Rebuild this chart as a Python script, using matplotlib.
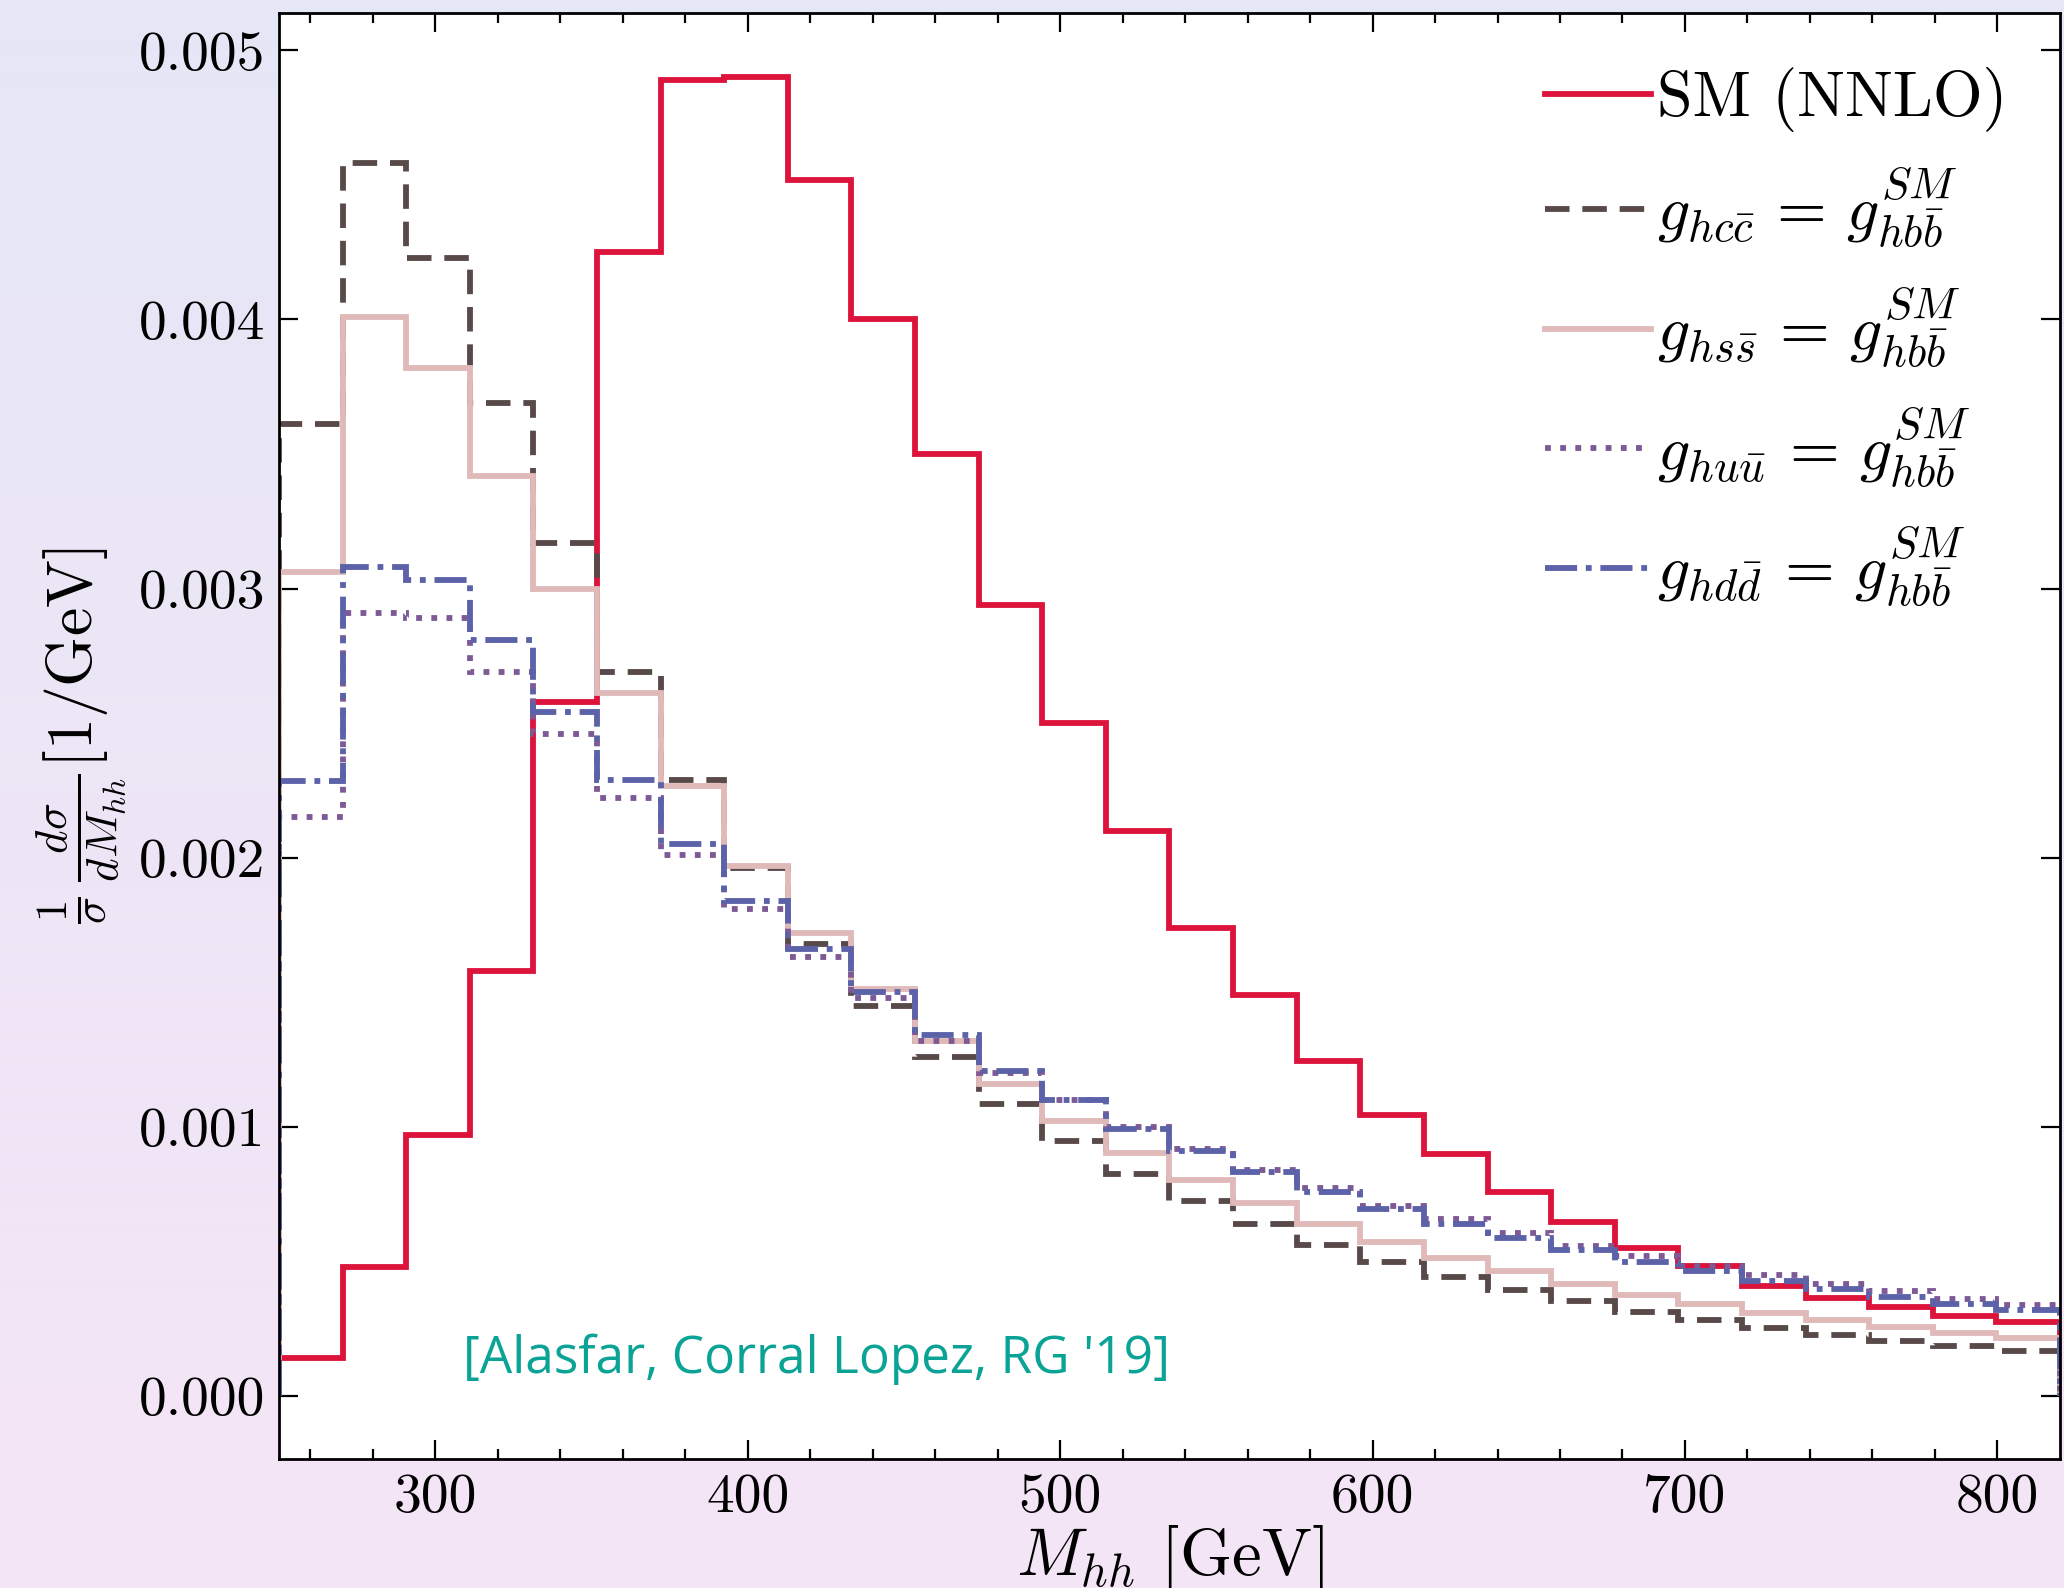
import matplotlib
matplotlib.use("Agg")
import matplotlib.pyplot as plt
import numpy as np
from matplotlib.lines import Line2D

# --- data ---
bin_edges = [250.0, 270.4, 290.7, 311.1, 331.4, 351.8, 372.1, 392.5, 412.9, 433.2,
             453.6, 473.9, 494.3, 514.6, 535.0, 555.4, 575.7, 596.1, 616.4, 636.8,
             657.1, 677.5, 697.9, 718.2, 738.6, 758.9, 779.3, 799.6, 820.0]

sm_nnlo = [0.00014, 0.00048, 0.00097, 0.00158, 0.00258, 0.00425, 0.00489, 0.00490,
           0.00452, 0.00400, 0.00350, 0.00294, 0.00250, 0.00210, 0.00174, 0.00149,
           0.001245, 0.001043, 0.000898, 0.000756, 0.000647, 0.000551, 0.000483,
           0.000409, 0.000365, 0.000331, 0.000297, 0.000276]

g_hcc = [0.00361, 0.00458, 0.00423, 0.00369, 0.00317, 0.00269, 0.00229, 0.00196,
         0.00168, 0.00145, 0.00126, 0.001085, 0.000948, 0.000825, 0.000725, 0.000638,
         0.000561, 0.000498, 0.000440, 0.000393, 0.000351, 0.000313, 0.000281,
         0.000251, 0.000227, 0.000204, 0.000185, 0.000167]

g_hss = [0.00306, 0.00401, 0.00382, 0.00342, 0.00300, 0.00261, 0.002265, 0.00197,
         0.00172, 0.00151, 0.00132, 0.00116, 0.00102, 0.000903, 0.000802, 0.000715,
         0.000638, 0.000571, 0.000511, 0.000462, 0.000417, 0.000375, 0.000341,
         0.000308, 0.000281, 0.000256, 0.000234, 0.000214]

g_huu = [0.00215, 0.00291, 0.00289, 0.00269, 0.00246, 0.00222, 0.00201, 0.00181,
         0.00163, 0.00148, 0.00132, 0.00120, 0.00110, 0.00100, 0.000917, 0.000839,
         0.000774, 0.000706, 0.000657, 0.000604, 0.000558, 0.000520, 0.000483,
         0.000450, 0.000415, 0.000388, 0.000360, 0.000338]

g_hdd = [0.002285, 0.00308, 0.00303, 0.00281, 0.00254, 0.00229, 0.00205, 0.00184,
         0.00166, 0.00150, 0.00134, 0.001208, 0.00110, 0.00099, 0.000911, 0.000830,
         0.000758, 0.000696, 0.000638, 0.000588, 0.000541, 0.000499, 0.000464,
         0.000427, 0.000396, 0.000367, 0.000343, 0.000320]

labels = ['SM (NNLO)',
          r'$g_{hc\bar{c}}\,=\,g^{SM}_{hb\bar{b}}$',
          r'$g_{hs\bar{s}}\,=\,g^{SM}_{hb\bar{b}}$',
          r'$g_{hu\bar{u}}\,=\,g^{SM}_{hb\bar{b}}$',
          r'$g_{hd\bar{d}}\,=\,g^{SM}_{hb\bar{b}}$']

x_ticks = [300, 400, 500, 600, 700, 800]
y_ticks = [0.000, 0.001, 0.002, 0.003, 0.004, 0.005]

# --- style ---
plt.rcParams['font.family'] = 'serif'
plt.rcParams['font.serif'] = ['cmr10', 'DejaVu Serif']
plt.rcParams['mathtext.fontset'] = 'cm'
plt.rcParams['axes.unicode_minus'] = False

fig = plt.figure(figsize=(20.64, 15.88), dpi=100)

# soft lavender gradient behind everything
bg = fig.add_axes([0, 0, 1, 1], zorder=0)
top_c = np.array([229, 231, 246]) / 255
bot_c = np.array([245, 229, 246]) / 255
t = np.linspace(0, 1, 256)[:, None]
grad = (top_c[None, :] * (1 - t) + bot_c[None, :] * t)[:, None, :]
bg.imshow(grad, aspect='auto', extent=[0, 1, 0, 1])
bg.axis('off')

ax = fig.add_axes([0.1352, 0.0812, 0.8628, 0.9108], zorder=1)
ax.set_facecolor('white')

lw = 4.2
styles = [
    (sm_nnlo, '#DC143C', '-'),
    (g_hcc, '#594a4a', (0, (4.2, 2.2))),
    (g_hss, '#e0b9b9', '-'),
    (g_huu, '#7d5a95', (0, (1, 1.6))),
    (g_hdd, '#5b62a8', (0, (5.5, 1.5, 1, 1.5))),
]
draw_order = [2, 1, 4, 3, 0]
for i in draw_order:
    vals, col, ls = styles[i]
    ax.stairs(vals, bin_edges, baseline=0, color=col, linestyle=ls,
              linewidth=lw, zorder=2 + i * 0.1)

leg_handles = [Line2D([], [], color=styles[i][1], linestyle=styles[i][2], linewidth=lw)
               for i in range(5)]
ax.legend(leg_handles, labels, loc='upper right', frameon=False, fontsize=46,
          handlelength=1.65, handletextpad=0.1, labelspacing=0.55,
          borderaxespad=0.2, bbox_to_anchor=(0.992, 0.989))

ax.set_xlim(250, 820)
ax.set_ylim(-0.000235, 0.00514)
ax.set_xticks(x_ticks)
ax.set_xticklabels([str(v) for v in x_ticks])
ax.set_xticks(np.arange(260, 820, 20), minor=True)
ax.set_yticks(y_ticks)
ax.set_yticklabels(['%.3f' % v for v in y_ticks])

ax.tick_params(which='both', direction='in', top=True, right=True, labelsize=40,
               width=1.6, color='black')
ax.tick_params(which='major', length=14, pad=10)
ax.tick_params(which='minor', length=7)
for s in ax.spines.values():
    s.set_linewidth(2.0)

ax.set_xlabel(r'$M_{hh}$ [GeV]', fontsize=48, labelpad=0)
ax.set_ylabel(r'$\frac{1}{\sigma}\,\frac{d\sigma}{dM_{hh}}[1/\mathrm{GeV}]$', fontsize=46,
              labelpad=8)

ax.text(309, 0.000137, "[Alasfar, Corral Lopez, RG '19]", color='#0aa396',
        fontsize=37, family='Open Sans', va='center', ha='left')

fig.savefig('out.png', dpi=100)
